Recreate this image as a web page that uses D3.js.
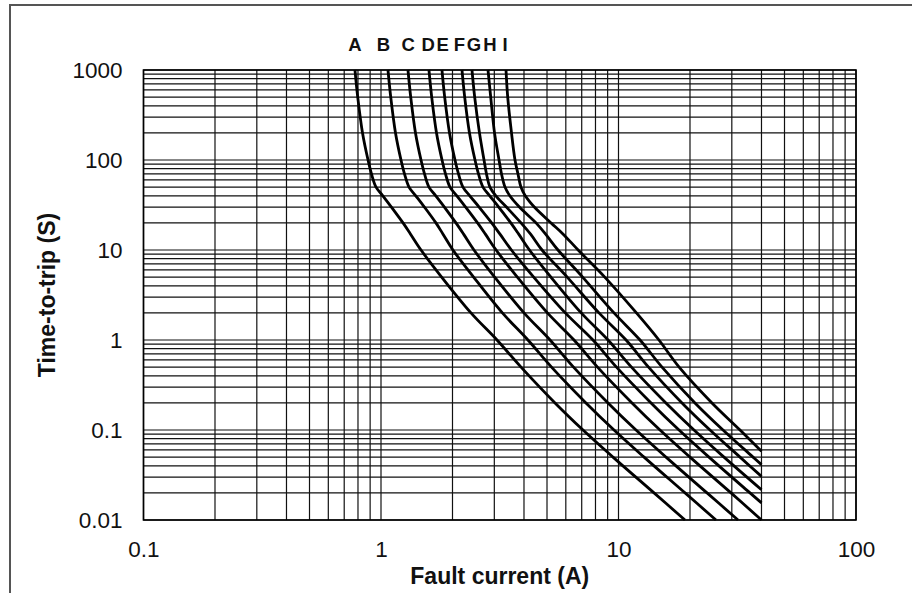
<!DOCTYPE html>
<html>
<head>
<meta charset="utf-8">
<script src="https://cdn.jsdelivr.net/npm/d3@7/dist/d3.min.js"></script>
<style>
    body { margin: 0; background: #fff; }
    text { font-family: "Liberation Sans", Arial, sans-serif; }
</style>
</head>
<body>
<div id="chart"></div>
<script>
// Tên các đường cong
const curveNames = ["A", "B", "C", "D", "E", "F", "G", "H", "I"];

// Thời gian ngắt (s) dùng chung cho các đường
const tripTimes = [1000, 500, 200, 100, 70, 50, 40, 30, 20, 15, 10, 5, 2, 1, 0.5, 0.2, 0.1, 0.05, 0.02, 0.01];

// Dòng sự cố (A) của từng đường tại các thời gian trên
const currentA = [0.777, 0.798, 0.836, 0.882, 0.912, 0.953, 1.018, 1.106, 1.238, 1.332, 1.474, 1.8, 2.392, 3.079, 3.887, 5.404, 7.088, 9.48, 14.11, 19.05];
const currentB = [1.07, 1.099, 1.151, 1.214, 1.256, 1.312, 1.401, 1.523, 1.703, 1.825, 2.009, 2.454, 3.244, 4.157, 5.224, 7.295, 9.574, 12.81, 19.06, 25.73];
const currentC = [1.299, 1.334, 1.397, 1.474, 1.525, 1.592, 1.701, 1.849, 2.068, 2.227, 2.463, 3.009, 4.0, 5.149, 6.466, 9.032, 11.85, 15.85, 23.59, 31.86];
const currentD = [1.592, 1.635, 1.713, 1.807, 1.869, 1.952, 2.086, 2.271, 2.55, 2.751, 3.052, 3.749, 5.02, 6.495, 8.157, 11.4, 14.95, 20.0, 29.77, 40];
const currentE = [1.806, 1.854, 1.943, 2.049, 2.12, 2.214, 2.365, 2.589, 2.924, 3.17, 3.54, 4.395, 5.97, 7.808, 9.808, 13.71, 17.98, 24.04, 35.78];
const currentF = [2.193, 2.251, 2.358, 2.488, 2.573, 2.688, 2.871, 3.131, 3.52, 3.8, 4.218, 5.193, 6.965, 9.033, 11.34, 15.84, 20.79, 27.81];
const currentG = [2.416, 2.48, 2.598, 2.715, 2.781, 2.876, 3.044, 3.373, 3.886, 4.265, 4.763, 6.081, 8.276, 10.76, 13.38, 18.51, 24.28, 32.48];
const currentH = [2.822, 2.897, 3.006, 3.14, 3.217, 3.327, 3.486, 3.826, 4.494, 4.932, 5.561, 7.062, 9.572, 12.32, 15.25, 20.99, 27.54, 36.85];
const currentI = [3.36, 3.416, 3.544, 3.666, 3.774, 3.885, 4.05, 4.42, 5.2, 5.85, 6.76, 8.75, 11.9, 14.8, 18.0, 24.75, 32.48];

// Điểm cuối tại 40 A cho các đường dừng trước 0.01 s
const cutoffCurrent = 40;
const cutoffTimes = [null, null, null, null, 0.0155, 0.0217, 0.0305, 0.0412, 0.058];

// Vị trí nhãn chữ phía trên (theo dòng điện)
const labelCurrents = [0.777, 1.023, 1.303, 1.582, 1.819, 2.137, 2.464, 2.876, 3.328];

// Nhãn trục
const xTickValues = [0.1, 1, 10, 100];
const yTickValues = [0.01, 0.1, 1, 10, 100, 1000];

const allCurrents = [currentA, currentB, currentC, currentD, currentE, currentF, currentG, currentH, currentI];

const curves = curveNames.map((name, i) => {
    const pts = allCurrents[i].map((c, j) => ({ current: c, time: tripTimes[j] }));
    if (cutoffTimes[i] !== null) pts.push({ current: cutoffCurrent, time: cutoffTimes[i] });
    return { name: name, points: pts };
});

// Kích thước
const width = 912, height = 593;
const plot = { left: 143.5, right: 856, top: 70, bottom: 520 };

const svg = d3.select("#chart")
    .append("svg")
    .attr("width", width)
    .attr("height", height);

// Khung ngoài
svg.append("rect")
    .attr("x", 10)
    .attr("y", 5)
    .attr("width", 1000)
    .attr("height", 1000)
    .attr("fill", "none")
    .attr("stroke", "#555")
    .attr("stroke-width", 2);

// Thang đo log
const x = d3.scaleLog().domain([0.1, 100]).range([plot.left, plot.right]);
const y = d3.scaleLog().domain([0.01, 1000]).range([plot.bottom, plot.top]);

// Lưới
const grid = svg.append("g");
grid.selectAll(".vline")
    .data(x.ticks())
    .enter()
    .append("line")
    .attr("x1", d => x(d))
    .attr("x2", d => x(d))
    .attr("y1", plot.top)
    .attr("y2", plot.bottom)
    .attr("stroke", "#111")
    .attr("stroke-width", 1.2);

grid.selectAll(".hline")
    .data(y.ticks())
    .enter()
    .append("line")
    .attr("x1", plot.left)
    .attr("x2", plot.right)
    .attr("y1", d => y(d))
    .attr("y2", d => y(d))
    .attr("stroke", "#111")
    .attr("stroke-width", 1.2);

// Viền vùng vẽ
svg.append("rect")
    .attr("x", plot.left)
    .attr("y", plot.top)
    .attr("width", plot.right - plot.left)
    .attr("height", plot.bottom - plot.top)
    .attr("fill", "none")
    .attr("stroke", "#000")
    .attr("stroke-width", 1.6);

// Các đường cong
const line = d3.line()
    .x(d => x(d.current))
    .y(d => y(d.time))
    .curve(d3.curveCatmullRom.alpha(0.5));

svg.append("g")
    .selectAll("path")
    .data(curves)
    .enter()
    .append("path")
    .attr("d", d => line(d.points))
    .attr("fill", "none")
    .attr("stroke", "#000")
    .attr("stroke-width", 2.8)
    .attr("stroke-linejoin", "round");

// Nhãn A..I
svg.append("g")
    .selectAll("text")
    .data(curveNames)
    .enter()
    .append("text")
    .attr("x", (d, i) => x(labelCurrents[i]))
    .attr("y", 51)
    .attr("text-anchor", "middle")
    .style("font-size", "18.5px")
    .style("font-weight", "bold")
    .style("fill", "#111")
    .text(d => d);

// Trục X
const xAxis = svg.append("g")
    .attr("transform", `translate(0,${plot.bottom})`)
    .call(d3.axisBottom(x)
        .tickValues(xTickValues)
        .tickFormat(d3.format("~g"))
        .tickSize(0)
        .tickPadding(21));
xAxis.select(".domain").remove();
xAxis.selectAll("text")
    .style("font-size", "22.5px")
    .style("font-family", "'Liberation Sans', Arial, sans-serif")
    .attr("fill", "#111");

// Trục Y
const yAxis = svg.append("g")
    .attr("transform", `translate(${plot.left},0)`)
    .call(d3.axisLeft(y)
        .tickValues(yTickValues)
        .tickFormat(d3.format("~g"))
        .tickSize(0)
        .tickPadding(21));
yAxis.select(".domain").remove();
yAxis.selectAll("text")
    .style("font-size", "22.5px")
    .style("font-family", "'Liberation Sans', Arial, sans-serif")
    .attr("fill", "#111");

// Tiêu đề trục
svg.append("text")
    .attr("x", (plot.left + plot.right) / 2)
    .attr("y", 584)
    .attr("text-anchor", "middle")
    .style("font-size", "23px")
    .style("font-weight", "bold")
    .style("fill", "#111")
    .text("Fault current (A)");

svg.append("text")
    .attr("transform", `translate(55,${(plot.top + plot.bottom) / 2}) rotate(-90)`)
    .attr("text-anchor", "middle")
    .style("font-size", "23px")
    .style("font-weight", "bold")
    .style("fill", "#111")
    .text("Time-to-trip (S)");
</script>
</body>
</html>
